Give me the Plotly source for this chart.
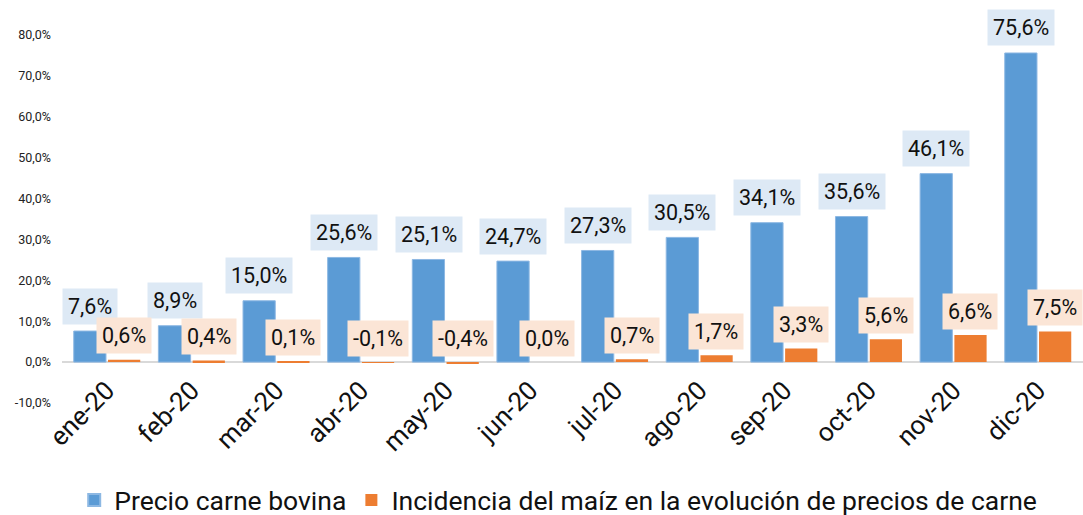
import plotly.graph_objects as go

months = ["ene-20", "feb-20", "mar-20", "abr-20", "may-20", "jun-20",
          "jul-20", "ago-20", "sep-20", "oct-20", "nov-20", "dic-20"]
precio = [7.6, 8.9, 15.0, 25.6, 25.1, 24.7, 27.3, 30.5, 34.1, 35.6, 46.1, 75.6]
incidencia = [0.6, 0.4, 0.1, -0.1, -0.4, 0.0, 0.7, 1.7, 3.3, 5.6, 6.6, 7.5]
tick_vals = [-10, 0, 10, 20, 30, 40, 50, 60, 70, 80]
tick_text = ["-10,0%", "0,0%", "10,0%", "20,0%", "30,0%", "40,0%", "50,0%", "60,0%", "70,0%", "80,0%"]

BLUE = "#5B9BD5"
ORANGE = "#ED7D31"
FONT = "Roboto, Arial, sans-serif"

def fmt(v):
    return f"{v:.1f}".replace(".", ",") + "%"

fig = go.Figure()
fig.add_bar(x=months, y=precio, name="Precio carne bovina",
            marker=dict(color=BLUE, line=dict(color="#8DB8E3", width=1)))
fig.add_bar(x=months, y=incidencia, name="Incidencia del maíz en la evolución de precios de carne",
            marker=dict(color=ORANGE, line=dict(width=0)))

annotations = []
for m, v in zip(months, precio):
    annotations.append(dict(x=m, y=v, xref="x", yref="y", text=fmt(v), showarrow=False,
                            xshift=-17, yshift=25, bgcolor="#DDE9F5", borderpad=5,
                            font=dict(family=FONT, size=21.5, color="#111")))
for m, v in zip(months, incidencia):
    annotations.append(dict(x=m, y=max(v, 0), xref="x", yref="y", text=fmt(v), showarrow=False,
                            xshift=17, yshift=24, bgcolor="#FBE5D6", borderpad=5,
                            font=dict(family=FONT, size=21.5, color="#111")))

fig.update_layout(
    width=1083, height=515,
    margin=dict(l=62, r=0, t=35, b=112, autoexpand=False),
    plot_bgcolor="white", paper_bgcolor="white",
    barmode="group", bargap=0.19, bargroupgap=0.06,
    font=dict(family=FONT, color="#222"),
    annotations=annotations,
    showlegend=True,
    legend=dict(orientation="h", x=0.486, xanchor="center", y=-0.264, yanchor="middle",
                font=dict(family=FONT, size=26.5, color="#111"), itemsizing="constant",
                traceorder="normal", itemwidth=30),
    xaxis=dict(tickangle=-45, tickfont=dict(family=FONT, size=26, color="#111"),
               showgrid=False, showline=False, ticks="", automargin=False,
               ticklabelstandoff=-34),
    yaxis=dict(range=[-10, 80], tickvals=tick_vals, ticktext=tick_text,
               tickfont=dict(family=FONT, size=12.5, color="#222"),
               showgrid=False, zeroline=True, zerolinecolor="#D9D9D9", zerolinewidth=2,
               showline=False, ticks="", automargin=False, ticklabelstandoff=10),
)

fig.write_html("out.html", config={"displayModeBar": False},
               post_script="document.body.style.margin='0';document.body.style.overflow='hidden';")
